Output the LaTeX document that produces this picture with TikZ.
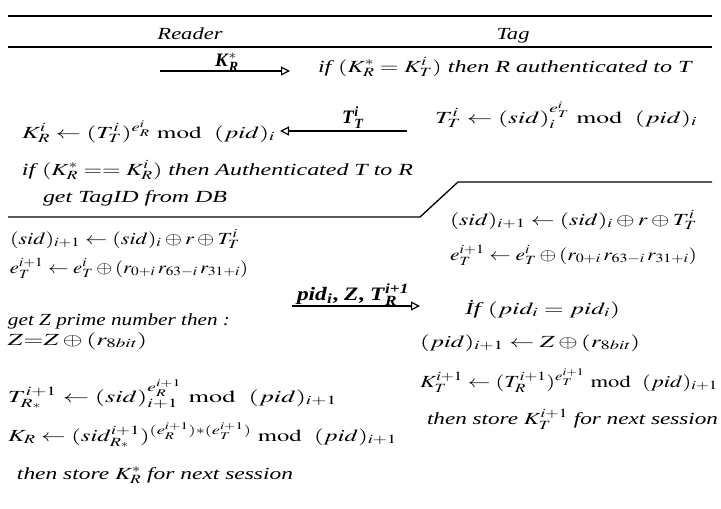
\documentclass[tikz,border=0pt]{standalone}
\usepackage{amsmath}
\usepackage{mathptmx}
\usepackage{fontspec}
\setmainfont{Liberation Serif}
\usepackage{graphicx}
\usetikzlibrary{arrows.meta}
\newcommand\fw[2]{\resizebox{#1pt}{\height}{#2}}
\newcommand\mymod{\ \mathrm{mod}\ \ }
\begin{document}
\begin{tikzpicture}[x=1pt,y=-1pt,
  txt/.style={anchor=base west, inner sep=0pt, outer sep=0pt, font=\fontsize{17}{20}\selectfont},
  hdr/.style={anchor=base, inner sep=0pt, outer sep=0pt, font=\fontsize{17}{20}\selectfont\itshape},
  lbl/.style={anchor=base, inner sep=0pt, outer sep=0pt, font=\fontsize{19}{22}\selectfont},
  thickrule/.style={line width=1.8pt},
  thinrule/.style={line width=1.3pt},
  msg/.style={line width=1.2pt, -{Triangle[open, length=9pt, width=9pt, line width=1.2pt]}}]
\useasboundingbox (0,0) rectangle (721,509);
% header
\coordinate (h1a) at (8,16); \coordinate (h1b) at (712,16);
\coordinate (h2a) at (8,47); \coordinate (h2b) at (712,47);
\draw[thickrule] (h1a) -- (h1b);
\draw[thickrule] (h2a) -- (h2b);
\node[hdr] (reader) at (190,39) {\fw{65}{Reader}};
\node[hdr] (tag) at (513,39) {\fw{33}{Tag}};
% separator
\coordinate (s1) at (8,217); \coordinate (s2) at (420,217);
\coordinate (s3) at (458,182); \coordinate (s4) at (712,182);
\draw[thinrule] (s1) -- (s2) -- (s3) -- (s4);
% round 1
\node[lbl] (l1) at (227,66) {\textbf{\textit{K}}$^{*}_{\textbf{\textit{R}}}$};
\coordinate (a1s) at (160,71); \coordinate (a1e) at (290,71);
\draw[msg] (a1s) -- (a1e);
\node[txt] (kr1) at (318,72) {\fw{375}{\textit{if}\,$(K_R^{*} = K_T^{i})$ \textit{then R authenticated to T}}};
% round 2
\node[txt] (ttr) at (435,123) {\fw{262}{$T_T^{i} \leftarrow (sid)_i^{e_T^{i}}\mymod(pid)_i$}};
\node[lbl] (l2) at (353,123) {\textbf{\textit{T}}$^{\textbf{\textit{i}}}_{\textbf{\textit{T}}}$};
\coordinate (a2s) at (407,131); \coordinate (a2e) at (280,131);
\draw[msg] (a2s) -- (a2e);
\node[txt] (krl) at (22,138) {\fw{253}{$K_R^{i} \leftarrow (T_T^{i})^{e_R^{i}}\mymod(pid)_i$}};
\node[txt] (auth) at (22,175) {\fw{391}{\textit{if}\,$(K_R^{*} == K_R^{i})$ \textit{then Authenticated T to R}}};
\node[txt] (db) at (43,202) {\fw{184}{\textit{get TagID from DB}}};
% reader update
\node[txt] (sidl) at (10,244) {\fw{230}{$(sid)_{i+1} \leftarrow (sid)_i \oplus r \oplus T_T^{i}$}};
\node[txt] (el) at (10,273) {\fw{238}{$e_T^{i+1} \leftarrow e_T^{i} \oplus (r_{0+i}\, r_{63-i}\, r_{31+i})$}};
\node[txt] (getz) at (8,325) {\fw{222}{\textit{get Z prime number then :}}};
\node[txt] (zz) at (8,345) {\fw{139}{$Z{=}Z \oplus (r_{8\mathit{bit}})$}};
\node[txt] (trl) at (8,402) {\fw{329}{$T_{R_{*}}^{i+1} \leftarrow (sid)_{i+1}^{e_R^{i+1}}\mymod(pid)_{i+1}$}};
\node[txt] (krr) at (8,441) {\fw{389}{$K_R \leftarrow (sid_{R_{*}}^{i+1})^{(e_R^{i+1})*(e_T^{i+1})}\mymod(pid)_{i+1}$}};
\node[txt] (stl) at (17,479) {\fw{276}{\textit{then store} $K_R^{*}$ \textit{for next session}}};
% message 3
\node[lbl] (l3) at (353,300) {\fw{112}{\textbf{\textit{pid}}$_{\textbf{\textit{i}}}$\textbf{, \textit{Z}, \textit{T}}$^{\textbf{\textit{i+1}}}_{\textbf{\textit{R}}}$}};
\coordinate (a3s) at (292,306); \coordinate (a3e) at (420,306);
\draw[msg] (a3s) -- (a3e);
% tag update
\node[txt] (sidr) at (450,225) {\fw{247}{$(sid)_{i+1} \leftarrow (sid)_i \oplus r \oplus T_T^{i}$}};
\node[txt] (er) at (450,260) {\fw{247}{$e_T^{i+1} \leftarrow e_T^{i} \oplus (r_{0+i}\, r_{63-i}\, r_{31+i})$}};
\node[txt] (ifp) at (465,314) {\fw{155}{\textit{İf}\,$(pid_i = pid_i)$}};
\node[txt] (pidr) at (420,347) {\fw{220}{$(pid)_{i+1} \leftarrow Z \oplus (r_{8\mathit{bit}})$}};
\node[txt] (ktr) at (420,387) {\fw{298}{$K_T^{i+1} \leftarrow (T_R^{i+1})^{e_T^{i+1}}\mymod(pid)_{i+1}$}};
\node[txt] (str) at (427,424) {\fw{291}{\textit{then store} $K_T^{i+1}$ \textit{for next session}}};
\end{tikzpicture}
\end{document}
